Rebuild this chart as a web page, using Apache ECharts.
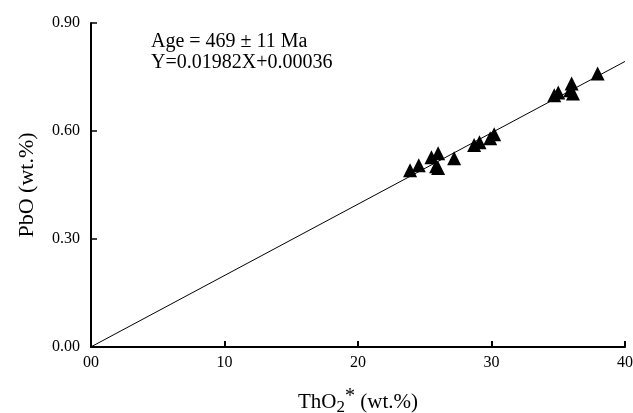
<!DOCTYPE html>
<html><head><meta charset="utf-8">
<script src="https://cdn.jsdelivr.net/npm/echarts@6/dist/echarts.min.js"></script>
<style>html,body{margin:0;padding:0;background:#fff}#c{width:633px;height:413px}</style>
</head><body><div id="c"></div>
<script>
var thoX = [23.9, 24.55, 25.5, 26.0, 26.0, 25.85, 27.2, 28.7, 29.1, 29.9, 30.2, 34.7, 35.0, 35.9, 36.0, 36.1, 37.95];
var pboY = [0.491, 0.505, 0.527, 0.538, 0.497, 0.502, 0.524, 0.561, 0.569, 0.580, 0.591, 0.699, 0.707, 0.713, 0.732, 0.704, 0.760];
var fitX = [0, 40];
var fitY = [0.00036, 0.79316];
var xTicks = ['00', '10', '20', '30', '40'];
var yTicks = ['0.00', '0.30', '0.60', '0.90'];
var note1 = 'Age = 469 \u00b1 11 Ma';
var note2 = 'Y=0.01982X+0.00036';

var pts = thoX.map(function(x, i){ return [x, pboY[i]]; });
var fit = fitX.map(function(x, i){ return [x, fitY[i]]; });
var font = 'Liberation Serif, Times New Roman, serif';
var chart = echarts.init(document.getElementById('c'), null, {renderer:'canvas'});
chart.setOption({
  animation:false,
  backgroundColor:'#fff',
  grid:{left:91, right:8, top:23, bottom:66, outerBoundsMode:'none', containLabel:false},
  xAxis:{type:'value', min:0, max:40, interval:10,
    axisLine:{onZero:false, lineStyle:{color:'#000', width:2}},
    axisTick:{inside:true, length:6, lineStyle:{color:'#000', width:2}},
    splitLine:{show:false},
    axisLabel:{color:'#000', fontFamily:font, fontSize:16, margin:8,
      formatter:function(v){ return xTicks[Math.round(v/10)]; }},
    name:'{a|ThO}{s|2}{p|*}{a| (wt.%)}', nameLocation:'middle', nameGap:40,
    nameTextStyle:{rich:{
      a:{fontFamily:font, fontSize:21, color:'#000'},
      s:{fontFamily:font, fontSize:17, color:'#000', padding:[12,0,0,0]},
      p:{fontFamily:font, fontSize:20, color:'#000', padding:[0,0,10,0]}
    }}
  },
  yAxis:{type:'value', min:0, max:0.9, interval:0.3,
    axisLine:{onZero:false, lineStyle:{color:'#000', width:2}},
    axisTick:{inside:true, length:6, lineStyle:{color:'#000', width:1.5}},
    splitLine:{show:false},
    axisLabel:{color:'#000', fontFamily:font, fontSize:16, margin:11,
      formatter:function(v){ return yTicks[Math.round(v/0.3)]; }},
    name:'PbO (wt.%)', nameLocation:'middle', nameGap:53,
    nameTextStyle:{fontFamily:font, fontSize:22, color:'#000'}
  },
  graphic:[
    {type:'text', left:151, top:32, style:{text:note1, font:'20px '+font, fill:'#000'}},
    {type:'text', left:151, top:53, style:{text:note2, font:'20px '+font, fill:'#000'}}
  ],
  series:[
    {type:'line', data:fit, symbol:'none', lineStyle:{color:'#000', width:1}, z:3},
    {type:'scatter', data:pts, symbol:'triangle', symbolSize:[14,14], itemStyle:{color:'#000', opacity:1}, z:4}
  ]
});
</script></body></html>
